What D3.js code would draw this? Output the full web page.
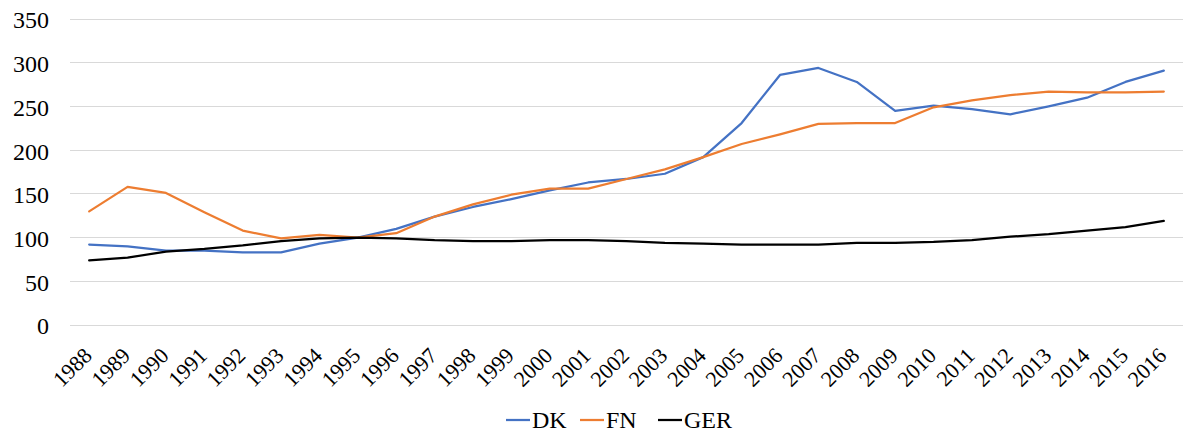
<!DOCTYPE html>
<html>
<head>
<meta charset="utf-8">
<script src="https://cdn.jsdelivr.net/npm/d3@7"></script>
<style>
  html, body { margin: 0; padding: 0; background: #fff; }
  svg { display: block; }
</style>
</head>
<body>
<svg id="chart" width="1183" height="432"></svg>
<script>
// Index series, 1988–2016
const years = d3.range(1988, 2017).map(String);
const dk  = [92, 90, 85, 85, 83, 83, 93, 100, 110, 124, 135, 144, 154, 163, 167, 173, 192, 231, 286, 294, 278, 245, 251, 247, 241, 250, 260, 278, 291];
const fn  = [130, 158, 151, 129, 108, 99, 103, 100, 105, 124, 138, 149, 156, 156, 167, 178, 192, 207, 218, 230, 231, 231, 249, 257, 263, 267, 266, 266, 267];
const ger = [74, 77, 84, 87, 91, 96, 99, 100, 99, 97, 96, 96, 97, 97, 96, 94, 93, 92, 92, 92, 94, 94, 95, 97, 101, 104, 108, 112, 119];
const yTicks = [0, 50, 100, 150, 200, 250, 300, 350];

const seriesNames = ["DK", "FN", "GER"];
const seriesValues = [dk, fn, ger];
const colors = ["#4472C4", "#ED7D31", "#000000"];

const FONT = "Liberation Serif";

const svg = d3.select("#chart");

const x = d3.scaleBand().domain(years).range([70, 1183]);
const y = d3.scaleLinear().domain([0, 350]).range([325, 19]);
const cx = d => x(d) + x.bandwidth() / 2;

// horizontal gridlines
svg.append("g")
  .selectAll("line")
  .data(yTicks)
  .join("line")
  .attr("x1", 70).attr("x2", 1183)
  .attr("y1", d => y(d)).attr("y2", d => y(d))
  .attr("stroke", "#d9d9d9").attr("stroke-width", 1)
  .attr("shape-rendering", "crispEdges");

// y axis labels
const yAxis = d3.axisLeft(y).tickValues(yTicks).tickSize(0).tickPadding(0);
svg.append("g")
  .attr("transform", "translate(49,0)")
  .call(yAxis)
  .attr("font-family", null).attr("font-size", null)
  .call(g => g.select(".domain").remove())
  .call(g => g.selectAll("text")
    .style("font-family", FONT)
    .style("font-size", "24px")
    .attr("fill", "#000")
    .attr("dy", "0.37em"));

// x axis labels, rotated
const xAxis = d3.axisBottom(x).tickSize(0).tickPadding(0);
svg.append("g")
  .attr("transform", "translate(0,325)")
  .call(xAxis)
  .attr("font-family", null).attr("font-size", null)
  .call(g => g.select(".domain").remove())
  .call(g => g.selectAll(".tick text")
    .style("font-family", FONT)
    .style("font-size", "22px")
    .attr("fill", "#000")
    .attr("text-anchor", "end")
    .attr("y", 0).attr("dy", 0)
    .attr("transform", "translate(4,32) rotate(-45)"));

// series lines
const line = d3.line()
  .x((d, i) => cx(years[i]))
  .y(d => y(d));

svg.append("g")
  .selectAll("path")
  .data(seriesValues)
  .join("path")
  .attr("d", d => line(d))
  .attr("fill", "none")
  .attr("stroke", (d, i) => colors[i])
  .attr("stroke-width", 2.25)
  .attr("stroke-linejoin", "round")
  .attr("stroke-linecap", "round");

// legend
const legendX = [506, 580, 658];
const legend = svg.append("g")
  .selectAll("g")
  .data(seriesNames)
  .join("g")
  .attr("transform", (d, i) => `translate(${legendX[i]},420)`);
legend.append("line")
  .attr("x1", 0).attr("x2", 24)
  .attr("y1", 0).attr("y2", 0)
  .attr("stroke", (d, i) => colors[i])
  .attr("stroke-width", 2.25);
legend.append("text")
  .attr("x", 26).attr("y", 8)
  .style("font-family", FONT)
  .style("font-size", "24px")
  .attr("fill", "#000")
  .text(d => d);
</script>
</body>
</html>
